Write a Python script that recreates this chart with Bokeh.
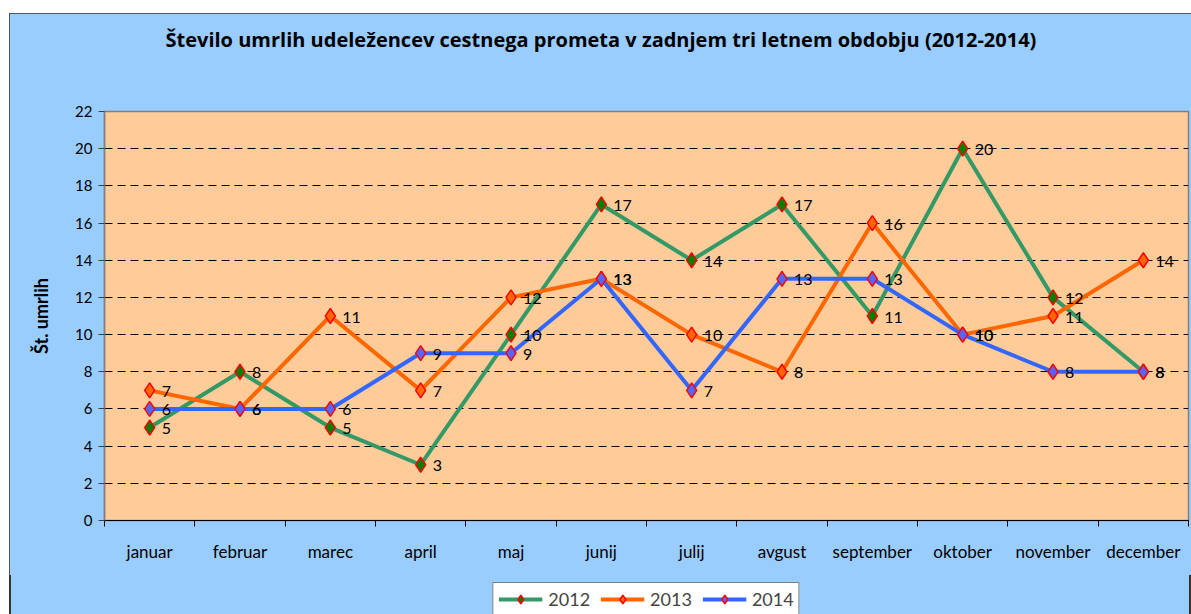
from bokeh.plotting import figure
from bokeh.models import ColumnDataSource, FixedTicker, Legend, LegendItem, Title, Range1d, Spacer
from bokeh.layouts import row, column
from bokeh.core.properties import value
from bokeh.embed import file_html
from bokeh.resources import INLINE

months = ["januar", "februar", "marec", "april", "maj", "junij", "julij",
          "avgust", "september", "oktober", "november", "december"]
years = ["2012", "2013", "2014"]
v2012 = [5, 8, 5, 3, 10, 17, 14, 17, 11, 20, 12, 8]
v2013 = [7, 6, 11, 7, 12, 13, 10, 8, 16, 10, 11, 14]
v2014 = [6, 6, 6, 9, 9, 13, 7, 13, 13, 10, 8, 8]
y_ticks = list(range(0, 23, 2))

title_text = "Število umrlih udeležencev cestnega prometa v zadnjem tri letnem obdobju (2012-2014)"
FONT = "Lato"
BG = "#99CCFF"

xs = [i + 0.5 for i in range(len(months))]

p = figure(frame_width=1084, frame_height=409, output_backend="svg", toolbar_location=None,
           x_range=Range1d(0, len(months)), y_range=Range1d(0, 22),
           min_border_left=95, min_border_right=3, min_border_top=98, min_border_bottom=55)
p.title = None
p.border_fill_color = BG
p.background_fill_color = "#FFCC99"
p.outline_line_color = "#808080"
p.outline_line_width = 1.5

# axes
p.xaxis.ticker = FixedTicker(ticks=xs, minor_ticks=list(range(len(months) + 1)))
p.xaxis.major_label_overrides = {x: m for x, m in zip(xs, months)}
p.xaxis.major_tick_out = 0
p.xaxis.major_tick_in = 0
p.xaxis.minor_tick_out = 6
p.xaxis.minor_tick_in = 0
p.xaxis.minor_tick_line_color = "black"
p.xaxis.axis_line_color = "black"
p.xaxis.major_label_text_font = FONT
p.xaxis.major_label_text_font_size = "17px"
p.xaxis.major_label_text_color = "black"
p.xaxis.major_label_standoff = 14

p.yaxis.ticker = FixedTicker(ticks=y_ticks, minor_ticks=[])
p.yaxis.major_tick_out = 6
p.yaxis.major_tick_in = 0
p.yaxis.major_tick_line_color = "#404040"
p.yaxis.axis_line_color = "#808080"
p.yaxis.axis_line_width = 1.5
p.yaxis.major_label_text_font = FONT
p.yaxis.major_label_text_font_size = "15px"
p.yaxis.major_label_text_color = "black"
p.yaxis.major_label_standoff = 6
p.yaxis.axis_label = "Št. umrlih"
p.yaxis.axis_label_text_font = FONT
p.yaxis.axis_label_text_font_size = "18px"
p.yaxis.axis_label_text_font_style = "bold"
p.yaxis.axis_label_text_color = "black"
p.yaxis.axis_label_standoff = 20

p.xgrid.visible = False
p.ygrid.ticker = FixedTicker(ticks=y_ticks, minor_ticks=[])
p.ygrid.grid_line_color = "black"
p.ygrid.grid_line_dash = "8 5"
p.ygrid.grid_line_width = 1

series = [
    (years[0], v2012, "#339966", "#008000"),
    (years[1], v2013, "#FF6600", "#FF6600"),
    (years[2], v2014, "#3366FF", "#5566FF"),
]

for name, vals, lc, fc in series:
    src = ColumnDataSource(dict(x=xs, y=vals, t=[str(v) for v in vals]))
    p.line("x", "y", source=src, line_color=lc, line_width=4)
    p.scatter("x", "y", source=src, marker="diamond", size=15,
              fill_color=fc, line_color="#FF0000", line_width=1.5)

for name, vals, lc, fc in series:
    src = ColumnDataSource(dict(x=xs, y=vals, t=[str(v) for v in vals]))
    p.text("x", "y", text="t", source=src, x_offset=12, y_offset=1,
           text_font=value(FONT), text_font_size="16px", text_color="black",
           text_baseline="middle", text_align="left")

spacer = Title(text=" ", text_font_size="38px", align="center")
p.add_layout(spacer, "above")
title = Title(text=title_text, text_font="Open Sans", text_font_size="20px", text_font_style="bold",
              align="left", offset=61, text_color="black")
p.add_layout(title, "above")

# legend strip (separate figure so the legend is not clipped); its series lie outside its view
lf = figure(frame_width=1084, height=42, output_backend="svg", toolbar_location=None,
            x_range=Range1d(0, len(months)), y_range=Range1d(100, 101),
            x_axis_type=None, y_axis_type=None,
            min_border_left=95, min_border_right=3, min_border_top=0, min_border_bottom=0)
lf.title = None
lf.border_fill_alpha = 0
lf.background_fill_alpha = 0
lf.outline_line_color = None
lf.xgrid.visible = False
lf.ygrid.visible = False

items = []
for name, vals, lc, fc in series:
    src = ColumnDataSource(dict(x=xs, y=vals))
    r1 = lf.line("x", "y", source=src, line_color=lc, line_width=4)
    r2 = lf.scatter("x", "y", source=src, marker="diamond", size=15,
                    fill_color=fc, line_color="#FF0000", line_width=1.5)
    items.append(LegendItem(label=name, renderers=[r1, r2]))

legend = Legend(items=items, orientation="horizontal", location="top_center",
                border_line_color="black", border_line_width=1,
                background_fill_color="white", background_fill_alpha=1,
                label_text_font=FONT, label_text_font_size="18px",
                glyph_width=44, glyph_height=22, label_standoff=6, spacing=10,
                padding=5, margin=7)
lf.add_layout(legend, "center")

chart = column(p, lf, spacing=0)
chart.styles = {"outline": "2px solid #333333", "outline-offset": "-2px",
                "background-color": BG}
layout = row(Spacer(width=9, height=10), column(Spacer(height=13, width=10), chart))
open("out.html", "w").write(file_html(layout, INLINE))
